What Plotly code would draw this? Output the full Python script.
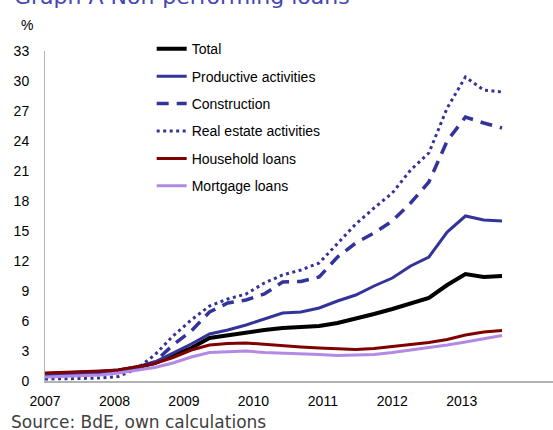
import plotly.graph_objects as go

# Quarterly observations, 2007 Q1 .. 2013 Q2 (period index)
periods = list(range(26))

total = [0.7, 0.75, 0.8, 0.9, 1.05, 1.35, 1.8, 2.6, 3.3, 4.3, 4.6, 4.8, 5.1, 5.3, 5.35, 5.5,
         5.8, 6.2, 6.7, 7.2, 7.8, 8.3, 9.6, 10.7, 10.4, 10.5]
productive = [0.65, 0.7, 0.75, 0.85, 1.0, 1.3, 1.9, 2.8, 3.7, 4.7, 5.1, 5.6, 6.2, 6.8, 6.9, 7.3,
              8.0, 8.6, 9.5, 10.3, 11.5, 12.4, 14.9, 16.5, 16.1, 16.0]
construction = [0.5, 0.55, 0.6, 0.7, 0.9, 1.3, 1.9, 3.6, 5.0, 6.9, 7.8, 8.1, 8.7, 9.9, 9.95, 10.4,
                12.4, 13.8, 14.8, 16.0, 17.8, 19.9, 24.0, 26.4, 25.8, 25.3]
real_estate = [0.2, 0.2, 0.25, 0.3, 0.45, 1.2, 2.6, 4.5, 6.1, 7.5, 8.2, 8.7, 9.8, 10.6, 11.1, 11.8,
               13.8, 15.7, 17.3, 18.8, 21.1, 22.8, 27.3, 30.4, 29.1, 28.9]
household = [0.8, 0.85, 0.9, 1.0, 1.1, 1.4, 1.75, 2.35, 3.1, 3.6, 3.75, 3.8, 3.65, 3.5, 3.4, 3.3,
             3.2, 3.15, 3.25, 3.45, 3.65, 3.85, 4.15, 4.6, 4.9, 5.05]
mortgage = [0.4, 0.45, 0.5, 0.6, 0.8, 1.05, 1.35, 1.8, 2.4, 2.85, 2.95, 3.0, 2.85, 2.8, 2.7, 2.65,
            2.55, 2.6, 2.65, 2.85, 3.1, 3.3, 3.6, 3.9, 4.2, 4.55]

year_labels = ["2007", "2008", "2009", "2010", "2011", "2012", "2013"]
year_tick_pos = [0, 3.8, 7.6, 11.4, 15.2, 19.0, 22.8]
y_ticks = list(range(0, 34, 3))

series = [
    ("Total", total, dict(color="#000000", width=4)),
    ("Productive activities", productive, dict(color="#333399", width=3)),
    ("Construction", construction, dict(color="#333399", width=3.5, dash="12px,8px")),
    ("Real estate activities", real_estate, dict(color="#333399", width=3, dash="3px,3.5px")),
    ("Household loans", household, dict(color="#800000", width=3)),
    ("Mortgage loans", mortgage, dict(color="#b38ae3", width=3)),
]

fig = go.Figure()
for i, (name, vals, line) in enumerate(series):
    fig.add_trace(go.Scatter(x=periods, y=vals, mode="lines", name=name, line=line,
                             legendgroup=f"g{i}"))

W, H = 553, 430
ml, mr, mt, mb = 45, 0, 51, 49

fig.update_layout(
    width=W, height=H,
    margin=dict(l=ml, r=mr, t=mt, b=mb, pad=0),
    paper_bgcolor="white", plot_bgcolor="white",
    font=dict(family="Liberation Sans, Arial, sans-serif", size=14, color="#000000"),
    showlegend=True,
    legend=dict(x=0.21, y=1.054, xanchor="left", yanchor="top",
                bgcolor="rgba(0,0,0,0)", tracegroupgap=6.2,
                font=dict(family="Liberation Sans, Arial, sans-serif", size=14, color="#000000")),
    xaxis=dict(range=[0, 27.79], tickvals=year_tick_pos, ticktext=year_labels,
               showgrid=False, zeroline=False, showline=True, linecolor="#b3b3b3", linewidth=2,
               ticks="", ticklabelstandoff=6,
               tickfont=dict(size=14, color="#000000")),
    yaxis=dict(range=[0, 33], tickvals=y_ticks, showgrid=False, zeroline=False,
               showline=True, linecolor="#b3b3b3", linewidth=1, ticks="",
               ticklabelstandoff=12,
               tickfont=dict(size=14, color="#000000")),
    annotations=[
        dict(text="Graph A Non-performing loans", xref="paper", yref="paper",
             x=-0.064, y=1.121, xanchor="left", yanchor="bottom", showarrow=False,
             font=dict(family="DejaVu Sans, sans-serif", size=22, color="#4646b4")),
        dict(text="%", xref="paper", yref="paper", x=-0.035, y=1.079,
             xanchor="center", yanchor="middle", showarrow=False,
             font=dict(size=14, color="#000000")),
        dict(text="Source: BdE, own calculations", xref="paper", yref="paper",
             x=-0.07, y=-0.124, xanchor="left", yanchor="middle", showarrow=False,
             font=dict(family="DejaVu Sans, sans-serif", size=17, color="#404040")),
    ],
)

fig.write_html(
    "out.html",
    config={"displayModeBar": False},
    post_script="document.body.style.margin='0';document.body.style.overflow='hidden';",
)
